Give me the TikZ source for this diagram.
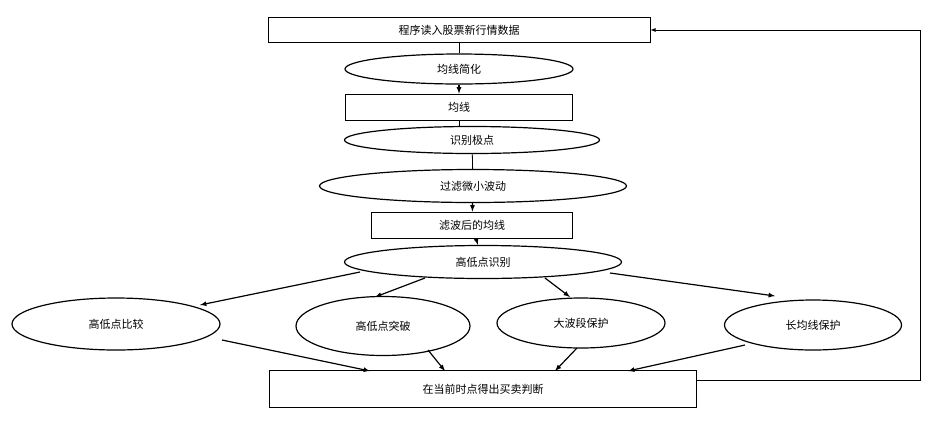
\documentclass[tikz,border=0pt]{standalone}
\usepackage{fontspec}
\setmainfont{Noto Sans CJK SC}
\usetikzlibrary{shapes.geometric,calc}
\tikzset{stepbox/.style={rectangle, draw, thick, inner sep=0pt}}
\tikzset{stepoval/.style={ellipse, draw, very thick, inner sep=0pt}}
\tikzset{flow/.style={->, very thick, >=latex}}
\begin{document}
\begin{tikzpicture}[x=1pt, y=-1pt, font=\fontsize{11}{13}\selectfont]
		\useasboundingbox (0,0) rectangle (945,424);
		%main chain
		\node[stepbox, minimum width=382pt, minimum height=25pt] (read) at (459,30) {程序读入股票新行情数据};
		\node[stepoval, minimum width=228pt, minimum height=30pt] (simp) at (459,69) {均线简化};
		\node[stepbox, minimum width=227pt, minimum height=26pt] (ma) at (459,107) {均线};
		\node[stepoval, minimum width=255pt, minimum height=27pt] (ext) at (472,140) {识别极点};
		\node[stepoval, minimum width=307pt, minimum height=33pt] (filt) at (473,186) {过滤微小波动};
		\node[stepbox, minimum width=201pt, minimum height=26pt] (fma) at (472,225) {滤波后的均线};
		\node[stepoval, minimum width=277pt, minimum height=33pt] (hl) at (483,262) {高低点识别};

		%strategies
		\node[stepoval, minimum width=208pt, minimum height=52pt] (cmp) at (116,324) {高低点比较};
		\node[stepoval, minimum width=174pt, minimum height=59pt] (brk) at (383,326) {高低点突破};
		\node[stepoval, minimum width=168pt, minimum height=50pt] (wave) at (581,323) {大波段保护};
		\node[stepoval, minimum width=177pt, minimum height=50pt] (lma) at (813,325) {长均线保护};

		\node[stepbox, minimum width=427pt, minimum height=37pt] (res) at (483,389) {在当前时点得出买卖判断};

		\draw[thick] (read) -- (simp);
		\draw[flow] (simp) -- (ma);
		\draw[thick] (ma.south) -- (ma.south |- ext.north);
		\draw[thick] (ext) -- (filt);
		\draw[flow] (filt) -- (fma);
		\draw[flow] (fma) -- (hl);

		\draw[flow] ($(hl)+(-123,10)$) -- ($(cmp)+(84,-19)$);
		\draw[flow] ($(hl)+(-58,16)$) -- ($(brk)+(-8,-29)$);
		\draw[flow] ($(hl)+(62,16)$) -- ($(wave)+(-11,-26)$);
		\draw[flow] ($(hl)+(127,11)$) -- ($(lma)+(-38,-29)$);

		\draw[flow] ($(cmp)+(106,16)$) -- ($(res)+(-113,-18)$);
		\draw[flow] ($(brk)+(45,24)$) -- ($(res)+(-38,-18)$);
		\draw[flow] ($(wave)+(-4,25)$) -- ($(res)+(72,-18)$);
		\draw[flow] ($(lma)+(-68,20)$) -- ($(res)+(145,-18)$);

		%feedback
		\coordinate (back) at (920,380);
		\draw[flow, thick] (res.east |- back) -- (back) -- (back |- read.east) -- (read.east);
\end{tikzpicture}
\end{document}
